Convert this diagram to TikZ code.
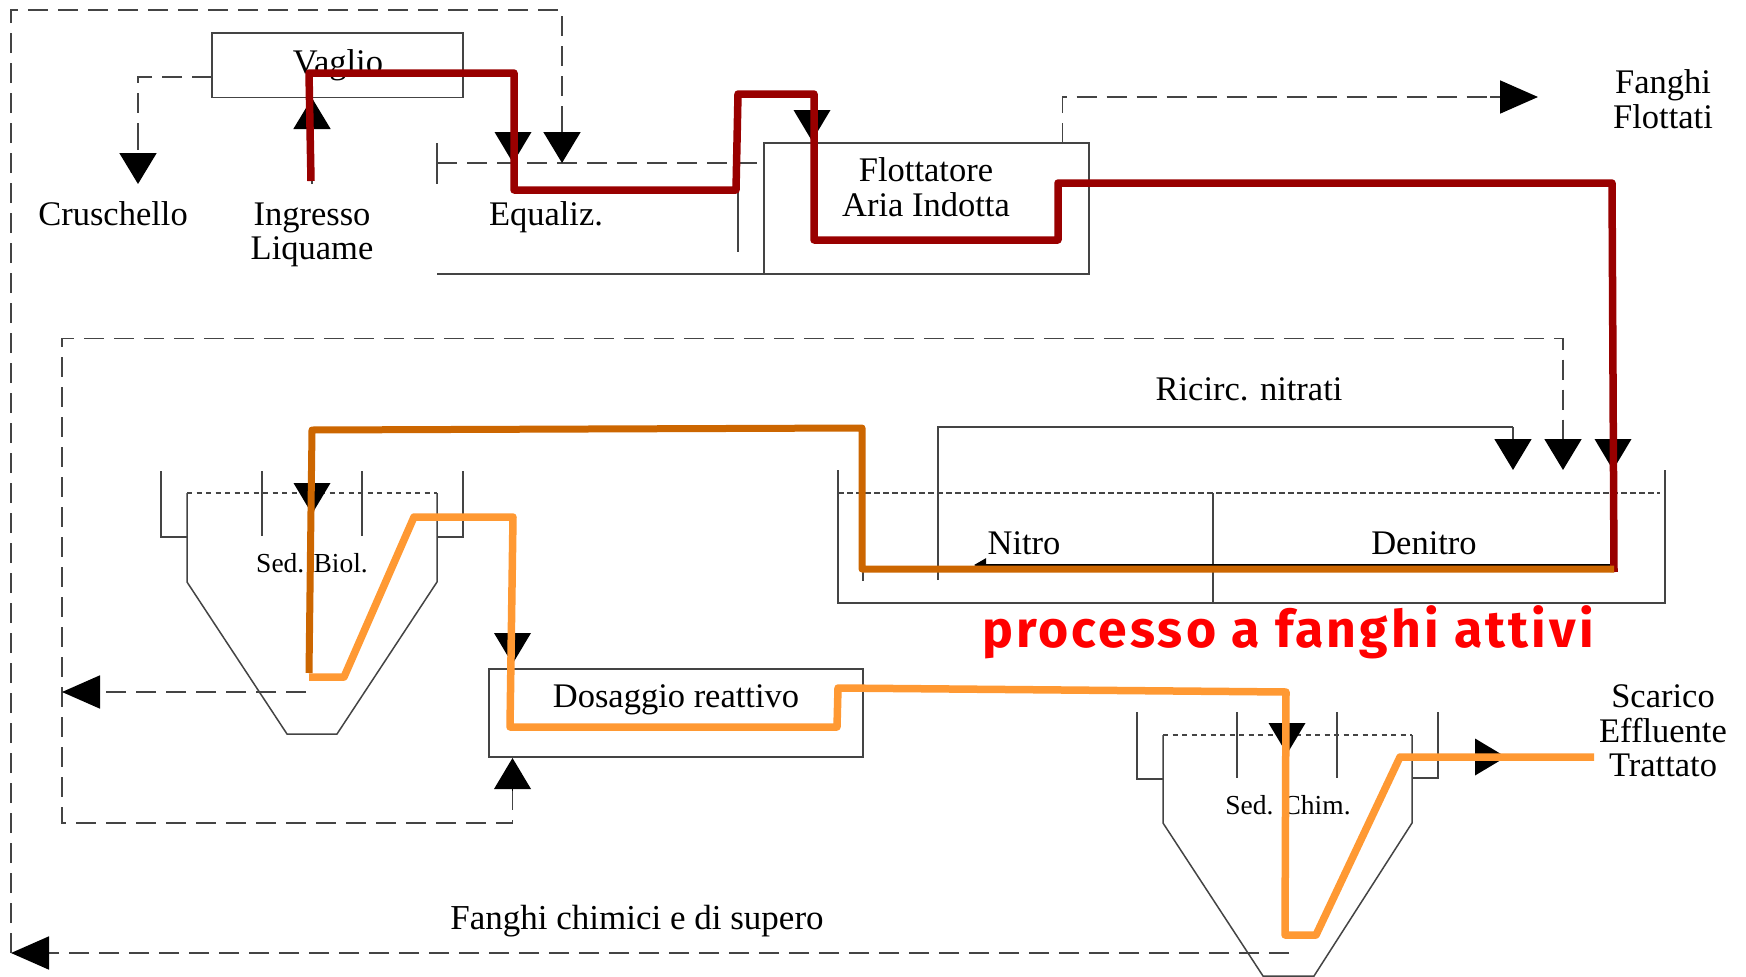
\documentclass[tikz,border=0pt]{standalone}
\usepackage{fontspec}
\setmainfont{Liberation Serif}
\newfontfamily\handfont[LetterSpace=6]{Fira Sans}
\usetikzlibrary{arrows.meta}
\definecolor{linegray}{HTML}{444444}
\definecolor{darkred}{HTML}{990000}
\definecolor{brownline}{HTML}{CC6600}
\definecolor{orangeline}{HTML}{FF9933}
\tikzset{
  thinline/.style={draw=linegray,line width=1.5pt},
  dashline/.style={draw=linegray,line width=1.8pt,dash pattern=on 20pt off 10pt},
  levelA/.style={draw=linegray,line width=1.4pt,dash pattern=on 6pt off 3pt},
  levelB/.style={draw=linegray,line width=1.3pt,dash pattern=on 5pt off 4.5pt},
  tip/.style={-{Triangle[length=31pt,width=37pt,color=black]}},
  tiplong/.style={-{Triangle[length=38pt,width=33pt,color=black]}},
  boxnode/.style={thinline,inner sep=0pt,outer sep=0pt},
  txt/.style={inner sep=0pt,align=center,font=\fontsize{34.5}{34.5}\selectfont},
  smalltxt/.style={inner sep=0pt,font=\fontsize{27.5}{30}\selectfont},
  flowred/.style={draw=darkred,line width=7.5pt,line join=round},
  flowbrown/.style={draw=brownline,line width=7pt,line join=round},
  floworange/.style={draw=orangeline,line width=7.5pt,line join=round},
}
\begin{document}
\begin{tikzpicture}[x=1pt,y=-1pt]
\useasboundingbox[fill=white] (0,0) rectangle (1746,977);

% boxes
\node[boxnode,minimum width=251pt,minimum height=64.5pt] (vaglio) at (337.5,65) {};
\node[boxnode,minimum width=325pt,minimum height=131pt] (flott) at (926.5,208.5) {};
\node[boxnode,minimum width=374pt,minimum height=88pt] (dos) at (676,713) {};

% texts
\node[txt] (tvaglio) at (338,65) {Vaglio};
\node[txt] (tcrus) at (113,214) {Cruschello};
\node[txt] (ting) at (312,235) {Ingresso\\Liquame};
\node[txt] (tequal) at (546,217) {Equaliz.};
\node[txt] (tflott) at (926,187) {Flottatore\\Aria Indotta};
\node[txt] (tfang) at (1663,99) {Fanghi\\Flottati};
\node[txt] (tric) at (1249,389) {Ricirc. nitrati};
\node[txt] (tnitro) at (1024,543) {Nitro};
\node[txt] (tden) at (1424,543) {Denitro};
\node[smalltxt] (tbiol) at (312,563) {Sed. Biol.};
\node[smalltxt] (tchim) at (1288,805) {Sed. Chim.};
\node[txt] (tdos) at (676,700) {Dosaggio reattivo};
\node[txt] (tsca) at (1663,731) {Scarico\\Effluente\\Trattato};
\node[txt,font=\fontsize{35}{35}\selectfont] (tsup) at (637,921) {Fanghi chimici e di supero};
\node[inner sep=0pt,anchor=base,text=red,font=\handfont\bfseries\fontsize{51.7}{52}\selectfont] (tproc) at (1288,647) {processo a fanghi attivi};

% coordinates of the dashed and thin connectors
\coordinate (o1) at (1289,953); \coordinate (o2) at (11,953);
\coordinate (o3) at (11,10); \coordinate (o4) at (562,10); \coordinate (o5) at (562,163);
\coordinate (c1) at (138,77); \coordinate (c2) at (138,184);
\coordinate (i1) at (312,184); \coordinate (i2) at (312,98);
\coordinate (e1a) at (513,132); \coordinate (e1b) at (513,163);
\coordinate (f1a) at (812,109); \coordinate (f1b) at (812,141);
\coordinate (g1) at (1062.5,143); \coordinate (g2) at (1062.5,97); \coordinate (g3) at (1538,97);
\coordinate (r1) at (512.5,790); \coordinate (r2) at (512.5,823); \coordinate (r3) at (62,823);
\coordinate (r4) at (62,338.5); \coordinate (r5) at (1563,338.5); \coordinate (r6) at (1563,470);
\coordinate (b1) at (306,692); \coordinate (b2) at (62,692);
\coordinate (rn1) at (938,580); \coordinate (rn2) at (938,427); \coordinate (rn3) at (1513,427); \coordinate (rn4) at (1513,470);
\coordinate (rd1) at (1613,439); \coordinate (rd2) at (1613,470);
\coordinate (ba1) at (312,483); \coordinate (ba2) at (312,514);
\coordinate (da1) at (512.5,632); \coordinate (da2) at (512.5,664);
\coordinate (da3) at (512.5,790); \coordinate (da4) at (512.5,758);
\coordinate (ca1) at (1287,723); \coordinate (ca2) at (1287,754);
\coordinate (sa1) at (1475,757); \coordinate (sa2) at (1506,757);
\coordinate (nl1) at (1613,565); \coordinate (nl2) at (974,565);

% equalization tank
\draw[thinline] (437,143) -- (437,184);
\draw[dashline] (437,163) -- (flott.west |- 437,163);
\draw[thinline] (437,274) -- (flott.south west);
\draw[thinline] (738,185) -- (738,252);

% nitro / denitro tank
\draw[thinline] (838,470) -- (838,603) -- (1665,603) -- (1665,470);
\draw[levelA] (838,493) -- (1660,493);
\draw[thinline] (1213,493) -- (1213,603);
\draw[thinline] (863,565) -- (863,581);
\draw[thinline] (rn1) -- (rn2) -- (rn3);
\draw[thinline,tip] (rn3) -- (rn4);
\draw[draw=black,line width=2.5pt,-{Triangle[length=12pt,width=13pt,color=black]}] (nl1) -- (nl2);

% biological settler
\draw[thinline] (161,471) -- (161,537) -- (187,537);
\draw[thinline] (187,493) -- (187,582) -- (287,734) -- (337,734) -- (437,582) -- (437,493);
\draw[levelB] (187,493) -- (437,493);
\draw[thinline] (262,471) -- (262,536);
\draw[thinline] (362,471) -- (362,536);
\draw[thinline] (437,537) -- (463,537) -- (463,471);

% chemical settler
\draw[thinline] (1137,712) -- (1137,779) -- (1163,779);
\draw[thinline] (1163,735) -- (1163,823) -- (1263,976) -- (1314,976) -- (1412,823) -- (1412,735);
\draw[levelB] (1163,735) -- (1412,735);
\draw[thinline] (1237,712) -- (1237,778);
\draw[thinline] (1337,712) -- (1337,778);
\draw[thinline] (1412,778) -- (1438,778) -- (1438,712);

% dashed connectors
\draw[dashline,tiplong] (o1) -- (o2);
\draw[dashline] (o2) -- (o3) -- (o4) -- (e1b -| o4);
\draw[dashline,tip] (562,120) -- (o5);
\draw[dashline] (vaglio.west |- c1) -- (c1) -- (138,130);
\draw[dashline,tip] (138,130) -- (c2);
\draw[dashline] (g1) -- (g2) -- (1490,97);
\draw[dashline,tiplong] (1490,97) -- (g3);
\draw[dashline] (r1) -- (r2) -- (r3) -- (r4) -- (r5) -- (1563,420);
\draw[dashline,tip] (1563,420) -- (r6);
\draw[dashline,tiplong] (b1) -- (b2);

% solid arrowheads
\draw[thinline,tip] (i1) -- (i2);
\draw[tip,draw=black,line width=0pt] (e1a) -- (e1b);
\draw[tip,draw=black,line width=0pt] (f1a) -- (f1b);
\draw[tip,draw=black,line width=0pt] (rd1) -- (rd2);
\draw[tip,draw=black,line width=0pt] (ba1) -- (ba2);
\draw[tip,draw=black,line width=0pt] (da1) -- (da2);
\draw[tip,draw=black,line width=0pt] (da3) -- (da4);
\draw[tip,draw=black,line width=0pt] (ca1) -- (ca2);
\draw[tip,draw=black,line width=0pt] (sa1) -- (sa2);

% process flows
\coordinate (p1) at (311,181); \coordinate (p2) at (309,73); \coordinate (p3) at (514,73);
\coordinate (p4) at (514,190); \coordinate (p5) at (736,190); \coordinate (p6) at (738,94);
\coordinate (p7) at (814,94); \coordinate (p8) at (814,240); \coordinate (p9) at (1058,240);
\coordinate (p10) at (1058,183); \coordinate (p11) at (1612,183); \coordinate (p12) at (1614,572);
\coordinate (q1) at (309,673); \coordinate (q2) at (312,430); \coordinate (q3) at (862,428);
\coordinate (q4) at (862,569); \coordinate (q5) at (1614,569);
\coordinate (s1) at (309,677); \coordinate (s2) at (344,677); \coordinate (s3) at (414,517);
\coordinate (s4) at (513,517); \coordinate (s5) at (510,727); \coordinate (s6) at (837,727);
\coordinate (s7) at (838,688); \coordinate (s8) at (1286,692); \coordinate (s9) at (1285,935);
\coordinate (s10) at (1316,935); \coordinate (s11) at (1400,757); \coordinate (s12) at (1594,757);

\draw[flowred] (p1) -- (p2) -- (p3) -- (p4) -- (p5) -- (p6) -- (p7) -- (p8) -- (p9) -- (p10) -- (p11) -- (p12);
\draw[floworange] (s1) -- (s2) -- (s3) -- (s4) -- (s5) -- (s6) -- (s7) -- (s8) -- (s9) -- (s10) -- (s11) -- (s12);
\draw[flowbrown] (q1) -- (q2) -- (q3) -- (q4) -- (q5);
\end{tikzpicture}
\end{document}
